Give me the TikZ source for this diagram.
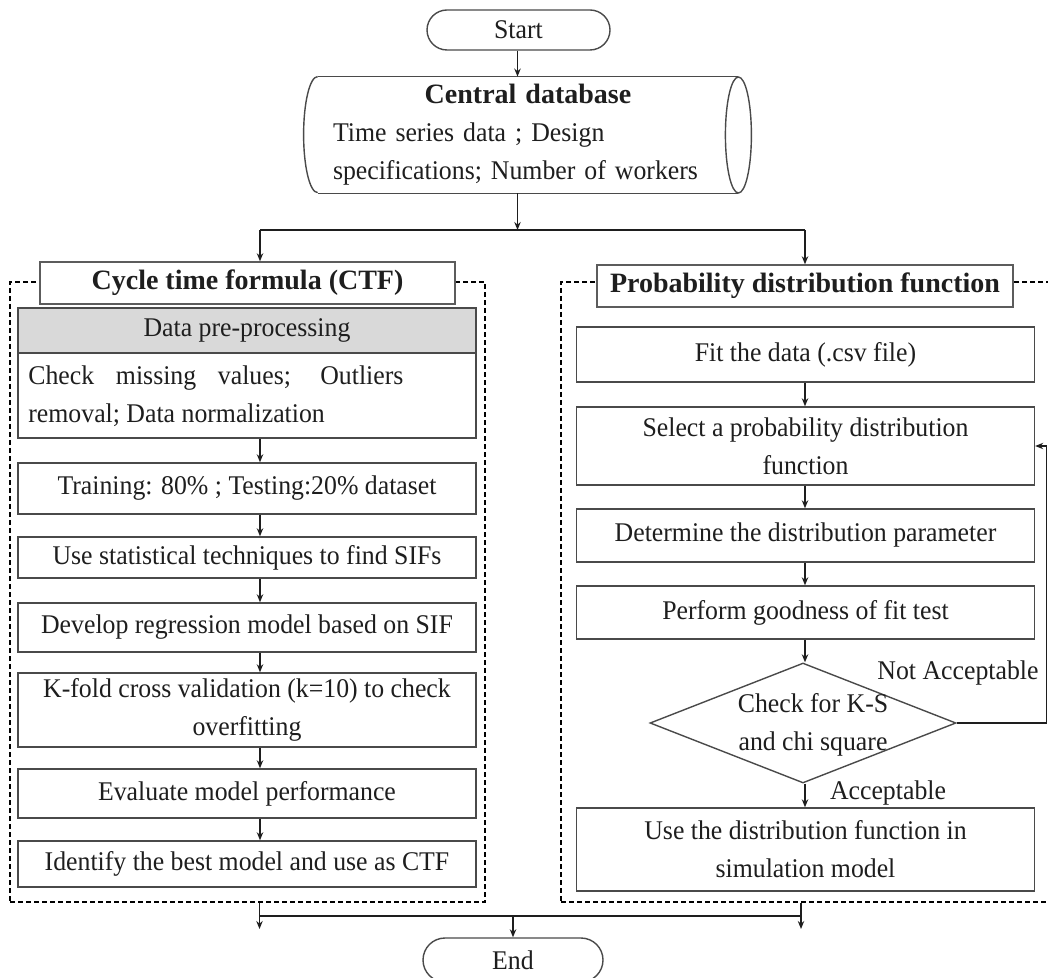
\documentclass[tikz,border=0pt]{standalone}
\usepackage{fontspec}
\setmainfont{Liberation Serif}
\newfontfamily\narrowserif[FakeStretch=0.955]{Liberation Serif}
\usetikzlibrary{arrows.meta,shapes.geometric,calc}
\definecolor{edge}{HTML}{4A4A4A}
\definecolor{ink}{HTML}{1E1E1E}
\definecolor{headfill}{HTML}{D9D9D9}
\begin{document}
\begin{tikzpicture}[x=0.5pt,y=-0.5pt,
  every node/.style={font=\narrowserif\fontsize{13.5}{19}\selectfont, text=ink},
  box/.style={draw=edge, line width=0.7pt, fill=white, inner sep=0pt,
    minimum width=229pt, align=center},
  ttl/.style={box, font=\rmfamily\fontsize{14}{19}\selectfont\bfseries, draw=edge!90},
  term/.style={draw=edge, line width=0.7pt, fill=white, rounded corners=10pt, inner sep=0pt},
  grp/.style={draw=black, line width=1pt, dash pattern=on 2.6pt off 1.4pt, inner sep=0pt},
  arr/.style={draw=ink, line width=0.65pt, -{Stealth[length=4pt,width=3.2pt]}},
  bar/.style={draw=ink, line width=1.1pt},
  lbl/.style={inner sep=0pt}]

\useasboundingbox[fill=white] (0,0) rectangle (1048,978);

% column axes for the connectors
\coordinate (ax) at (260,0);
\coordinate (bx) at (805,0);
\coordinate (mx) at (517.5,0);

% dashed frames of the two branches
\node[grp, minimum width=237.5pt, minimum height=310pt] (grpL) at (247.5,592) {};
\node[grp, minimum width=245.5pt, minimum height=310pt] (grpR) at (806.5,592) {};

% start terminal
\node[term, minimum width=91.5pt, minimum height=20pt] (start) at (518.5,30) {Start};

% central database (horizontal cylinder)
\node[inner xsep=7.5pt, inner ysep=0pt, text width=195pt, minimum height=58pt, align=left]
  (db) at (528,135)
  {\makebox[\linewidth]{\rmfamily\fontsize{14}{19}\selectfont\textbf{Central database}}\\
   Time series data ; Design\\
   specifications; Number of workers};
\draw[edge, line width=0.7pt] (db.north west) -- (db.north east);
\draw[edge, line width=0.7pt] (db.south west) -- (db.south east);
\draw[edge, line width=0.7pt] (db.north west) arc[start angle=90, end angle=270, x radius=7pt, y radius=29pt];
\draw[edge, line width=0.7pt] (db.east) ellipse[x radius=6.5pt, y radius=29pt];

\draw[arr] (start.south -| mx) -- (db.north -| mx);

% split into the two branches
\coordinate (jl) at (260,230);
\coordinate (jr) at (805,230);
\coordinate (jc) at (517.5,230);
\draw[arr] (db.south -| mx) -- (jc);
\draw[bar] (jl) -- (jr);

% ---- left branch: cycle time formula
\node[ttl, minimum width=207.5pt, minimum height=21pt] (ctf) at (247.5,283) {Cycle time formula (CTF)};
\draw[arr] (jl) -- (ctf.north -| jl);

\node[box, fill=headfill, minimum height=22.5pt] (hdr) at (247,330.5) {Data pre-processing};
\node[box, minimum height=42.5pt] (pre) at (247,395.5) {};
\node[anchor=west, text width=187.5pt, align=justify, inner sep=0pt] (pretext) at (28,396)
  {Check missing values; Outliers\linebreak removal; Data normalization};

\node[box, minimum height=25.5pt] (train) at (247,488.5) {Training: 80\% ; Testing:20\% dataset};
\node[box, minimum height=20.5pt] (stat) at (247,557.5) {Use statistical techniques to find SIFs};
\node[box, minimum height=24.5pt] (dev) at (247,627.5) {Develop regression model based on SIF};
\node[box, minimum height=37pt] (kfold) at (247,710) {K-fold cross validation (k=10) to check\\overfitting};
\node[box, minimum height=24.5pt] (eval) at (247,793.5) {Evaluate model performance};
\node[box, minimum height=23pt] (ident) at (247,864) {Identify the best model and use as CTF};

\draw[arr] (pre.south -| ax) -- (train.north -| ax);
\draw[arr] (train.south -| ax) -- (stat.north -| ax);
\draw[arr] (stat.south -| ax) -- (dev.north -| ax);
\draw[arr] (dev.south -| ax) -- (kfold.north -| ax);
\draw[arr] (kfold.south -| ax) -- (eval.north -| ax);
\draw[arr] (eval.south -| ax) -- (ident.north -| ax);

% ---- right branch: probability distribution function
\node[ttl, minimum width=208pt, minimum height=21pt] (pdf) at (805,286) {Probability distribution function};
\draw[arr] (jr) -- (pdf.north -| jr);

\node[box, minimum height=27.5pt] (fit) at (805.5,354.5) {Fit the data (.csv file)};
\node[box, minimum height=39pt] (sel) at (805.5,446) {Select a probability distribution\\function};
\node[box, minimum height=26.5pt] (det) at (805.5,535.5) {Determine the distribution parameter};
\node[box, minimum height=26.5pt] (perf) at (805.5,612.5) {Perform goodness of fit test};
\node[draw=edge, line width=0.7pt, fill=white, diamond, inner sep=0pt,
  minimum width=153pt, minimum height=60pt] (chk) at (803,723) {};
\node[lbl, align=center] (chkt) at (813,725) {Check for K-S\\and chi square};
\node[box, minimum height=41.5pt] (use) at (805.5,849.5) {Use the distribution function in\\simulation model};

\draw[arr] (fit.south -| bx) -- (sel.north -| bx);
\draw[arr] (sel.south -| bx) -- (det.north -| bx);
\draw[arr] (det.south -| bx) -- (perf.north -| bx);
\draw[arr] (perf.south -| bx) -- (chk.north -| bx);
\draw[arr] (chk.south -| bx) -- (use.north -| bx);

% rejection loop
\coordinate (fb) at (1046.5,723);
\draw[bar] (chk.east) -- (fb);
\draw[arr] (fb) |- (sel.east);
\node[lbl] (nacc) at (958,673) {Not Acceptable};
\node[lbl] (acc) at (888,793) {Acceptable};

% ---- merge and end
\coordinate (bl) at (259.5,929);
\coordinate (br) at (801,929);
\coordinate (hl) at (259.5,916);
\coordinate (hr) at (801,916);
\coordinate (hc) at (513,916);
\node[term, rounded corners=11pt, minimum width=90pt, minimum height=22pt] (end) at (513,960) {End};
\draw[arr] (grpL.south -| bl) -- (bl);
\draw[arr] (grpR.south -| br) -- (br);
\draw[bar] (hl) -- (hr);
\draw[arr] (hc) -- (end.north);
\end{tikzpicture}
\end{document}
